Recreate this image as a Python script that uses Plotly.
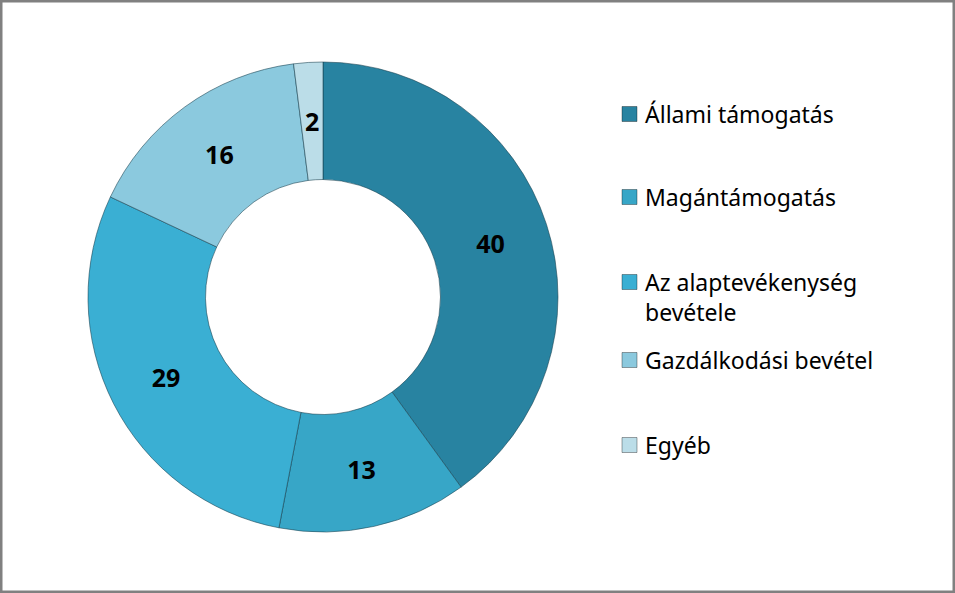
import math
import textwrap
import plotly.graph_objects as go

labels = ["Állami támogatás", "Magántámogatás", "Az alaptevékenység bevétele",
          "Gazdálkodási bevétel", "Egyéb"]
values = [40, 13, 29, 16, 2]
colors = ["#2883a1", "#37a6c7", "#3aafd3", "#8bc9de", "#bbdde8"]

W, H = 955, 593
# donut placement in pixels (centre and outer radius)
cx, cy, r = 323, 297, 235
hole = 0.5
small = 5  # slices below this get their number as an annotation (pie would shrink it)

num_font = dict(family="Open Sans", size=25, color="#000000", weight="bold")

fig = go.Figure(go.Pie(
    labels=labels,
    values=values,
    hole=hole,
    sort=False,
    direction="clockwise",
    rotation=0,
    marker=dict(colors=colors, line=dict(color="rgba(20,60,75,0.55)", width=1)),
    textinfo="value",
    textposition=["inside" if v >= small else "none" for v in values],
    insidetextorientation="horizontal",
    textfont=num_font,
    domain=dict(x=[(cx - r) / W, (cx + r) / W],
                y=[(H - cy - r) / H, (H - cy + r) / H]),
    automargin=False,
    showlegend=False,
))

annotations = []
shapes = []

# number for the thin slice, at the middle of its wedge
total = sum(values)
cum = 0
rm = r * (1 + hole) / 2
for v in values:
    mid = (cum + v / 2) / total * 2 * math.pi
    cum += v
    if v < small:
        annotations.append(dict(xref="paper", yref="paper",
                                x=(cx + rm * math.sin(mid)) / W,
                                y=(H - cy + rm * math.cos(mid)) / H,
                                xanchor="center", yanchor="middle",
                                text=str(v), showarrow=False, font=num_font))

# legend drawn by hand, Excel style
leg_x = 622
leg_y = [114, 197, 282, 360, 445]  # centre of first line for each entry
box = 15
for lab, col, y in zip(labels, colors, leg_y):
    lines = textwrap.wrap(lab, 20)
    shapes.append(dict(type="rect", xref="paper", yref="paper",
                       x0=leg_x / W, x1=(leg_x + box) / W,
                       y0=(H - y - box / 2) / H, y1=(H - y + box / 2) / H,
                       fillcolor=col, line=dict(color="rgba(0,0,0,0.35)", width=1)))
    annotations.append(dict(xref="paper", yref="paper", x=(leg_x + box + 6) / W,
                            y=(H - y + 18) / H, xanchor="left", yanchor="top",
                            text="<br>".join(lines), showarrow=False, align="left",
                            font=dict(family="Noto Sans", size=23, color="#000000")))

# grey frame round the chart area
shapes.append(dict(type="rect", xref="paper", yref="paper", x0=0, x1=1, y0=0, y1=1,
                   line=dict(color="#808080", width=5), fillcolor="rgba(0,0,0,0)"))

fig.update_layout(
    width=W, height=H,
    margin=dict(l=0, r=0, t=0, b=0),
    paper_bgcolor="#ffffff",
    shapes=shapes,
    annotations=annotations,
)

fig.write_html("out.html", post_script="document.body.style.margin='0';",
               config={"displayModeBar": False})
